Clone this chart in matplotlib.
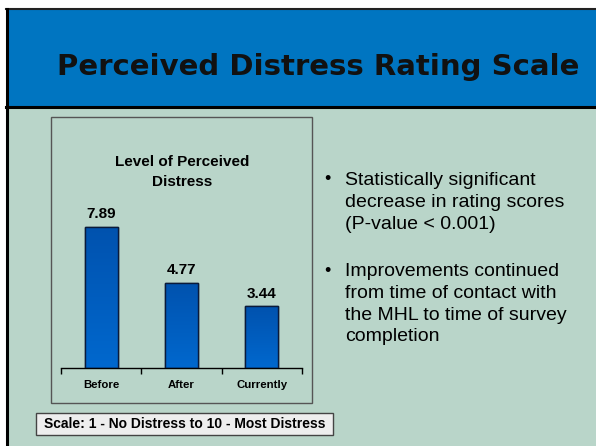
import matplotlib.pyplot as plt
import numpy as np
from matplotlib.patches import Rectangle

# data
categories = ['Before', 'After', 'Currently']
scores = [7.89, 4.77, 3.44]
bullets = [
    'Statistically significant\ndecrease in rating scores\n(P-value < 0.001)',
    'Improvements continued\nfrom time of contact with\nthe MHL to time of survey\ncompletion',
]

W, H = 596, 446
fig = plt.figure(figsize=(W / 100, H / 100), dpi=100)
fig.patch.set_facecolor('white')

# background layer in pixel coords
bg = fig.add_axes([0, 0, 1, 1])
bg.set_xlim(0, W)
bg.set_ylim(H, 0)
bg.axis('off')

bg.add_patch(Rectangle((6, 10), W, H, facecolor='#B9D5C9', edgecolor='none'))
bg.add_patch(Rectangle((6, 10), W, 96, facecolor='#0075C1', edgecolor='none'))
bg.plot([6, W], [9, 9], color='#222222', lw=1.5)
bg.plot([6, W], [107, 107], color='black', lw=2.2)
bg.plot([6.5, 6.5], [9, H], color='black', lw=2.2)
bg.text(318, 67, 'Perceived Distress Rating Scale', fontsize=21, fontweight='bold',
        ha='center', va='center', color='#111111', family='DejaVu Sans')

# chart frame
bg.add_patch(Rectangle((51, 117), 261, 286, facecolor='none', edgecolor='#555555', lw=1))
bg.text(182, 172, 'Level of Perceived\nDistress', fontsize=11, fontweight='bold',
        ha='center', va='center', family='Liberation Sans', linespacing=1.5)

# scale note
bg.add_patch(Rectangle((36, 413), 297, 22, facecolor='#EEEEEE', edgecolor='#444444', lw=1))
bg.text(184.5, 424, 'Scale: 1 - No Distress to 10 - Most Distress', fontsize=10,
        fontweight='bold', ha='center', va='center', family='Liberation Sans')

# bullets
ys = [172, 263]
for y, txt in zip(ys, bullets):
    bg.text(327, y + 8, '\u2022', fontsize=13, ha='center', va='center',
            family='Liberation Sans')
    bg.text(345, y, txt, fontsize=14, ha='left', va='top',
            family='Liberation Sans', linespacing=1.37)

# bar chart
ax = fig.add_axes([61 / W, (H - 368) / H, 241 / W, 179 / H])
ax.set_facecolor('none')
x = range(len(categories))
bars = ax.bar(x, scores, width=0.41, color='#005EC0', edgecolor='#0A1A3A', lw=1, zorder=2)
grad = np.linspace(0, 1, 100).reshape(-1, 1)
cmap = plt.matplotlib.colors.LinearSegmentedColormap.from_list('g', ['#0068CE', '#0052AE'])
for b in bars:
    im = ax.imshow(grad, cmap=cmap, aspect='auto', origin='lower',
                   extent=[b.get_x(), b.get_x() + b.get_width(), 0, b.get_height()],
                   zorder=2.5)
    im.set_clip_path(b)
for b in bars:
    ax.add_patch(Rectangle((b.get_x(), 0), b.get_width(), b.get_height(),
                           facecolor='none', edgecolor='#0A1A3A', lw=1, zorder=3))
for i, v in zip(x, scores):
    ax.annotate(f'{v:.2f}', (i, v), xytext=(0, 4), textcoords='offset points',
                ha='center', va='bottom', fontsize=11, fontweight='bold',
                family='Liberation Sans')
ax.set_xlim(-0.5, 2.5)
ax.set_ylim(0, 10)
for s in ['top', 'left', 'right']:
    ax.spines[s].set_visible(False)
ax.spines['bottom'].set_linewidth(1)
ax.set_yticks([])
ax.set_xticks(list(x))
ax.set_xticklabels(categories, fontsize=8.2, fontweight='bold', family='Liberation Sans')
ax.tick_params(axis='x', which='major', length=0, pad=9)
ax.set_xticks([-0.5, 0.5, 1.5, 2.5], minor=True)
ax.tick_params(axis='x', which='minor', length=4, width=1, direction='out')

fig.savefig('out.png', dpi=100)
